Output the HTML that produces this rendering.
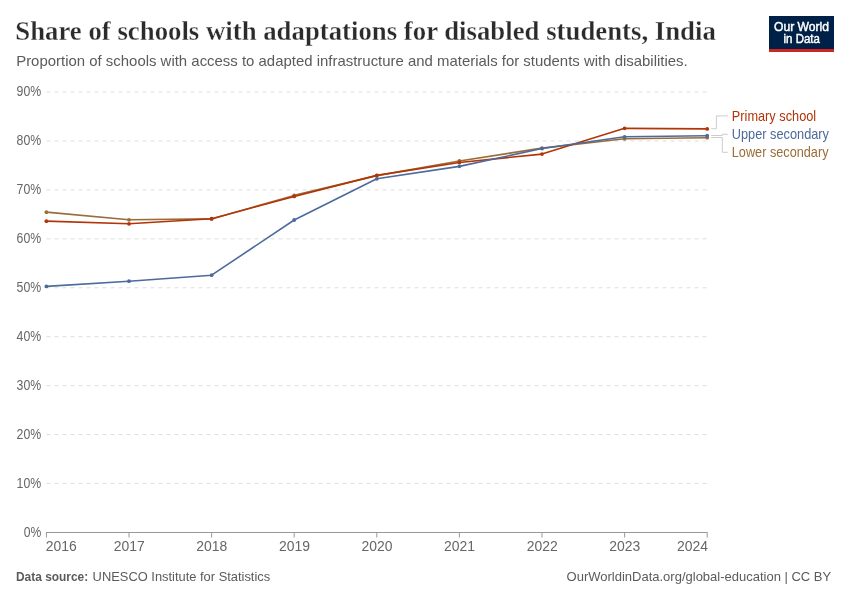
<!DOCTYPE html>
<html><head><meta charset="utf-8"><style>
html,body{margin:0;padding:0;background:#fff;}
svg{display:block;will-change:transform;}
text{font-family:"Liberation Sans",sans-serif;}
.serif{font-family:"Liberation Serif",serif;}
</style></head><body>
<svg width="850" height="600" viewBox="0 0 850 600">
<rect width="850" height="600" fill="#fff"/>
<text class="serif" x="15.3" y="39.8" font-weight="bold" font-size="27" fill="#2b2b2b" stroke="#fff" stroke-width="0.3" textLength="700.5" lengthAdjust="spacingAndGlyphs">Share of schools with adaptations for disabled students, India</text>
<text x="16.2" y="66.3" font-size="14.6" fill="#5b5b5b" textLength="671.5" lengthAdjust="spacingAndGlyphs">Proportion of schools with access to adapted infrastructure and materials for students with disabilities.</text>
<g>
<rect x="769" y="16" width="65" height="36" fill="#002147"/>
<rect x="769" y="49" width="65" height="3" fill="#ce261e"/>
<text x="774" y="30.8" font-size="12.5" fill="#fff" stroke="#fff" stroke-width="0.45" textLength="55" lengthAdjust="spacingAndGlyphs">Our World</text>
<text x="783.5" y="42.9" font-size="12.5" fill="#fff" stroke="#fff" stroke-width="0.45" textLength="36.4" lengthAdjust="spacingAndGlyphs">in Data</text>
</g>
<line x1="46.5" y1="483.56" x2="707.5" y2="483.56" stroke="#dddddd" stroke-dasharray="4,4"/>
<line x1="46.5" y1="434.61" x2="707.5" y2="434.61" stroke="#dddddd" stroke-dasharray="4,4"/>
<line x1="46.5" y1="385.67" x2="707.5" y2="385.67" stroke="#dddddd" stroke-dasharray="4,4"/>
<line x1="46.5" y1="336.72" x2="707.5" y2="336.72" stroke="#dddddd" stroke-dasharray="4,4"/>
<line x1="46.5" y1="287.78" x2="707.5" y2="287.78" stroke="#dddddd" stroke-dasharray="4,4"/>
<line x1="46.5" y1="238.84" x2="707.5" y2="238.84" stroke="#dddddd" stroke-dasharray="4,4"/>
<line x1="46.5" y1="189.89" x2="707.5" y2="189.89" stroke="#dddddd" stroke-dasharray="4,4"/>
<line x1="46.5" y1="140.95" x2="707.5" y2="140.95" stroke="#dddddd" stroke-dasharray="4,4"/>
<line x1="46.5" y1="92.00" x2="707.5" y2="92.00" stroke="#dddddd" stroke-dasharray="4,4"/>

<line x1="46" y1="532.5" x2="707.5" y2="532.5" stroke="#999"/>
<line x1="46.40" y1="532.5" x2="46.40" y2="537.5" stroke="#999"/><line x1="129.00" y1="532.5" x2="129.00" y2="537.5" stroke="#999"/><line x1="211.60" y1="532.5" x2="211.60" y2="537.5" stroke="#999"/><line x1="294.20" y1="532.5" x2="294.20" y2="537.5" stroke="#999"/><line x1="376.80" y1="532.5" x2="376.80" y2="537.5" stroke="#999"/><line x1="459.40" y1="532.5" x2="459.40" y2="537.5" stroke="#999"/><line x1="542.00" y1="532.5" x2="542.00" y2="537.5" stroke="#999"/><line x1="624.60" y1="532.5" x2="624.60" y2="537.5" stroke="#999"/><line x1="707.20" y1="532.5" x2="707.20" y2="537.5" stroke="#999"/>
<g font-size="14" fill="#666"><text x="41.2" y="536.50" text-anchor="end" textLength="17.5" lengthAdjust="spacingAndGlyphs">0%</text>
<text x="41.2" y="487.56" text-anchor="end" textLength="24.6" lengthAdjust="spacingAndGlyphs">10%</text>
<text x="41.2" y="438.61" text-anchor="end" textLength="24.6" lengthAdjust="spacingAndGlyphs">20%</text>
<text x="41.2" y="389.67" text-anchor="end" textLength="24.6" lengthAdjust="spacingAndGlyphs">30%</text>
<text x="41.2" y="340.72" text-anchor="end" textLength="24.6" lengthAdjust="spacingAndGlyphs">40%</text>
<text x="41.2" y="291.78" text-anchor="end" textLength="24.6" lengthAdjust="spacingAndGlyphs">50%</text>
<text x="41.2" y="242.84" text-anchor="end" textLength="24.6" lengthAdjust="spacingAndGlyphs">60%</text>
<text x="41.2" y="193.89" text-anchor="end" textLength="24.6" lengthAdjust="spacingAndGlyphs">70%</text>
<text x="41.2" y="144.95" text-anchor="end" textLength="24.6" lengthAdjust="spacingAndGlyphs">80%</text>
<text x="41.2" y="96.00" text-anchor="end" textLength="24.6" lengthAdjust="spacingAndGlyphs">90%</text>
</g>
<g font-size="14" fill="#666"><text x="45.80" y="550.7" text-anchor="start" textLength="31" lengthAdjust="spacingAndGlyphs">2016</text>
<text x="129.20" y="550.7" text-anchor="middle" textLength="31" lengthAdjust="spacingAndGlyphs">2017</text>
<text x="211.80" y="550.7" text-anchor="middle" textLength="31" lengthAdjust="spacingAndGlyphs">2018</text>
<text x="294.40" y="550.7" text-anchor="middle" textLength="31" lengthAdjust="spacingAndGlyphs">2019</text>
<text x="377.00" y="550.7" text-anchor="middle" textLength="31" lengthAdjust="spacingAndGlyphs">2020</text>
<text x="459.60" y="550.7" text-anchor="middle" textLength="31" lengthAdjust="spacingAndGlyphs">2021</text>
<text x="542.20" y="550.7" text-anchor="middle" textLength="31" lengthAdjust="spacingAndGlyphs">2022</text>
<text x="624.80" y="550.7" text-anchor="middle" textLength="31" lengthAdjust="spacingAndGlyphs">2023</text>
<text x="708.00" y="550.7" text-anchor="end" textLength="31" lengthAdjust="spacingAndGlyphs">2024</text>
</g>
<g fill="none" stroke-width="1.6" stroke-linejoin="round">
<path d="M46.40,212.15 L129.00,219.80 L211.60,218.90 L294.20,195.40 L376.80,175.60 L459.40,161.00 L542.00,148.10 L624.60,138.75 L707.20,137.70" stroke="#9a6d38"/>
<circle cx="46.40" cy="212.15" r="1.9" fill="#9a6d38"/><circle cx="129.00" cy="219.80" r="1.9" fill="#9a6d38"/><circle cx="211.60" cy="218.90" r="1.9" fill="#9a6d38"/><circle cx="294.20" cy="195.40" r="1.9" fill="#9a6d38"/><circle cx="376.80" cy="175.60" r="1.9" fill="#9a6d38"/><circle cx="459.40" cy="161.00" r="1.9" fill="#9a6d38"/><circle cx="542.00" cy="148.10" r="1.9" fill="#9a6d38"/><circle cx="624.60" cy="138.75" r="1.9" fill="#9a6d38"/><circle cx="707.20" cy="137.70" r="1.9" fill="#9a6d38"/>
<path d="M46.40,221.15 L129.00,223.80 L211.60,218.75 L294.20,196.40 L376.80,175.40 L459.40,162.50 L542.00,154.10 L624.60,128.35 L707.20,128.90" stroke="#b13507"/>
<circle cx="46.40" cy="221.15" r="1.9" fill="#b13507"/><circle cx="129.00" cy="223.80" r="1.9" fill="#b13507"/><circle cx="211.60" cy="218.75" r="1.9" fill="#b13507"/><circle cx="294.20" cy="196.40" r="1.9" fill="#b13507"/><circle cx="376.80" cy="175.40" r="1.9" fill="#b13507"/><circle cx="459.40" cy="162.50" r="1.9" fill="#b13507"/><circle cx="542.00" cy="154.10" r="1.9" fill="#b13507"/><circle cx="624.60" cy="128.35" r="1.9" fill="#b13507"/><circle cx="707.20" cy="128.90" r="1.9" fill="#b13507"/>
<path d="M46.40,286.40 L129.00,281.20 L211.60,275.20 L294.20,220.00 L376.80,178.80 L459.40,166.35 L542.00,148.55 L624.60,136.80 L707.20,135.70" stroke="#4c6a9c"/>
<circle cx="46.40" cy="286.40" r="1.9" fill="#4c6a9c"/><circle cx="129.00" cy="281.20" r="1.9" fill="#4c6a9c"/><circle cx="211.60" cy="275.20" r="1.9" fill="#4c6a9c"/><circle cx="294.20" cy="220.00" r="1.9" fill="#4c6a9c"/><circle cx="376.80" cy="178.80" r="1.9" fill="#4c6a9c"/><circle cx="459.40" cy="166.35" r="1.9" fill="#4c6a9c"/><circle cx="542.00" cy="148.55" r="1.9" fill="#4c6a9c"/><circle cx="624.60" cy="136.80" r="1.9" fill="#4c6a9c"/><circle cx="707.20" cy="135.70" r="1.9" fill="#4c6a9c"/>
</g>
<g fill="none" stroke="#cccccc" stroke-width="1">
<path d="M711.2,128.75 H716.4 V115.9 H727.8"/>
<path d="M711.2,135.5 H722.3 V134.25 H727.8"/>
<path d="M711.2,137.5 H722.3 V152.3 H727.8"/>
</g>
<g font-size="13.75">
<text x="731.8" y="120.8" fill="#b13507" textLength="84.4" lengthAdjust="spacingAndGlyphs">Primary school</text>
<text x="731.8" y="138.9" fill="#4c6a9c" textLength="97.2" lengthAdjust="spacingAndGlyphs">Upper secondary</text>
<text x="731.8" y="156.8" fill="#9a6d38" textLength="96.7" lengthAdjust="spacingAndGlyphs">Lower secondary</text>
</g>
<g font-size="13" fill="#5b5b5b">
<text x="16" y="580.8" font-weight="bold" fill="#5b5b5b" textLength="72.2" lengthAdjust="spacingAndGlyphs">Data source:</text>
<text x="92.6" y="580.8" fill="#5b5b5b" textLength="177.6" lengthAdjust="spacingAndGlyphs">UNESCO Institute for Statistics</text>
<text x="566.6" y="580.8" fill="#5b5b5b" textLength="264.6" lengthAdjust="spacingAndGlyphs">OurWorldinData.org/global-education | CC BY</text>
</g>
</svg>
</body></html>
